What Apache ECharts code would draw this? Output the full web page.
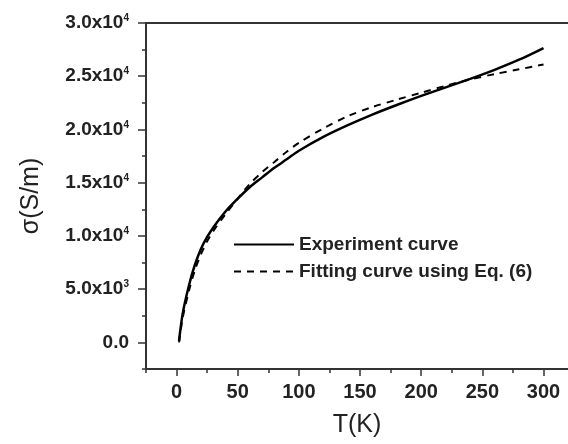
<!DOCTYPE html>
<html>
<head>
<meta charset="utf-8">
<script src="https://cdn.jsdelivr.net/npm/echarts@6/dist/echarts.min.js"></script>
<style>
html,body{margin:0;padding:0;background:#fff;}
#chart{width:568px;height:444px;}
</style>
</head>
<body>
<div id="chart"></div>
<script>
// Temperatures (K)
var tempExp = [2, 5, 10, 15, 20, 25, 30, 40, 50, 60, 70, 80, 90, 100, 120, 140, 160, 180, 200, 220, 240, 260, 280, 300];
// Experiment curve sigma (S/m)
var sigmaExp = [150, 2700, 5300, 7300, 8800, 9900, 10800, 12300, 13500, 14600, 15500, 16400, 17200, 18000, 19300, 20400, 21400, 22300, 23150, 23950, 24750, 25600, 26550, 27650];
// Fitting curve temperatures and sigma
var tempFit = [2, 5, 10, 15, 20, 25, 30, 40, 50, 60, 70, 80, 90, 100, 120, 140, 160, 180, 200, 220, 240, 260, 280, 300];
var sigmaFit = [0, 2300, 4800, 6800, 8300, 9500, 10450, 12050, 13500, 14900, 16000, 16950, 17900, 18750, 20100, 21250, 22100, 22800, 23450, 24100, 24700, 25200, 25650, 26100];
var seriesNames = ['Experiment curve', 'Fitting curve using Eq. (6)'];
// Tick positions
var xMajor = [0, 50, 100, 150, 200, 250, 300];
var xMinor = [-25, 25, 75, 125, 175, 225, 275];
var yMajor = [0, 5000, 10000, 15000, 20000, 25000, 30000];
var yMinor = [-2500, 2500, 7500, 12500, 17500, 22500, 27500];
var yTickLabels = ['0.0', '5.0x10|3', '1.0x10|4', '1.5x10|4', '2.0x10|4', '2.5x10|4', '3.0x10|4'];

function pairs(xs, ys){ return xs.map(function(x,i){ return [x, ys[i]]; }); }

var font = '"Liberation Sans", Arial, sans-serif';
var axisColor = '#333';
var txt = '#222';
var chart = echarts.init(document.getElementById('chart'), null, {renderer:'canvas'});
chart.setOption({
  backgroundColor: '#fff',
  animation: false,
  grid: {left: 146, right: 0, top: 23, bottom: 75, containLabel: false},
  legend: {
    orient: 'vertical', left: 233, top: 235, padding: 0,
    itemWidth: 60, itemHeight: 14, itemGap: 8,
    itemStyle: {opacity: 0},
    textStyle: {fontFamily: font, fontSize: 19, fontWeight: 'bold', color: txt, lineHeight: 19},
    data: seriesNames
  },
  xAxis: [{
    type: 'value', min: -25, max: 320,
    name: 'T(K)', nameLocation: 'middle', nameGap: 44,
    nameTextStyle: {fontFamily: font, fontSize: 25, color: txt},
    axisLine: {show: true, onZero: false, lineStyle: {color: axisColor, width: 2}},
    axisTick: {show: true, length: 7, customValues: xMajor, lineStyle: {color: axisColor, width: 1.5}},
    splitLine: {show: false},
    axisLabel: {
      customValues: xMajor,
      fontFamily: font, fontSize: 20, fontWeight: 'bold', color: txt, margin: 13
    }
  }, {
    type: 'value', position: 'bottom', min: -25, max: 320,
    axisLine: {show: false, onZero: false},
    axisTick: {show: true, length: 4, customValues: xMinor, lineStyle: {color: axisColor, width: 1.5}},
    axisLabel: {show: false}, splitLine: {show: false}
  }, {
    type: 'value', position: 'top', min: -25, max: 320,
    axisLine: {show: true, onZero: false, lineStyle: {color: axisColor, width: 2}},
    axisTick: {show: false}, axisLabel: {show: false}, splitLine: {show: false}
  }],
  yAxis: [{
    type: 'value', min: -2500, max: 30000,
    name: 'σ(S/m)', nameLocation: 'middle', nameGap: 102,
    nameTextStyle: {fontFamily: font, fontSize: 25, color: txt},
    axisLine: {show: true, onZero: false, lineStyle: {color: axisColor, width: 2}},
    axisTick: {show: true, length: 8, customValues: yMajor, lineStyle: {color: axisColor, width: 1.5}},
    splitLine: {show: false},
    axisLabel: {
      customValues: yMajor,
      margin: 17,
      formatter: function(v){
        var i = yMajor.indexOf(v);
        if (i < 0) return '';
        var parts = yTickLabels[i].split('|');
        return parts[1] ? '{a|' + parts[0] + '}{s|' + parts[1] + '}' : '{a|' + parts[0] + '}';
      },
      rich: {
        a: {fontFamily: font, fontSize: 19, fontWeight: 'bold', color: txt},
        s: {fontFamily: font, fontSize: 10, fontWeight: 'bold', color: txt, verticalAlign: 'top', padding: [0,0,9,0]}
      }
    }
  }, {
    type: 'value', position: 'left', min: -2500, max: 30000,
    axisLine: {show: false, onZero: false},
    axisTick: {show: true, length: 4, customValues: yMinor, lineStyle: {color: axisColor, width: 1.5}},
    axisLabel: {show: false}, splitLine: {show: false}
  }],
  series: [{
    name: seriesNames[0], type: 'line', xAxisIndex: 0, yAxisIndex: 0,
    data: pairs(tempExp, sigmaExp), smooth: 0.3, symbol: 'circle', showSymbol: false,
    lineStyle: {color: '#000', width: 2.5, type: 'solid'},
    itemStyle: {color: '#000'}
  }, {
    name: seriesNames[1], type: 'line', xAxisIndex: 0, yAxisIndex: 0,
    data: pairs(tempFit, sigmaFit), smooth: 0.3, symbol: 'circle', showSymbol: false,
    lineStyle: {color: '#000', width: 2, type: [7, 6]},
    itemStyle: {color: '#000'}
  }]
});
</script>
</body>
</html>
